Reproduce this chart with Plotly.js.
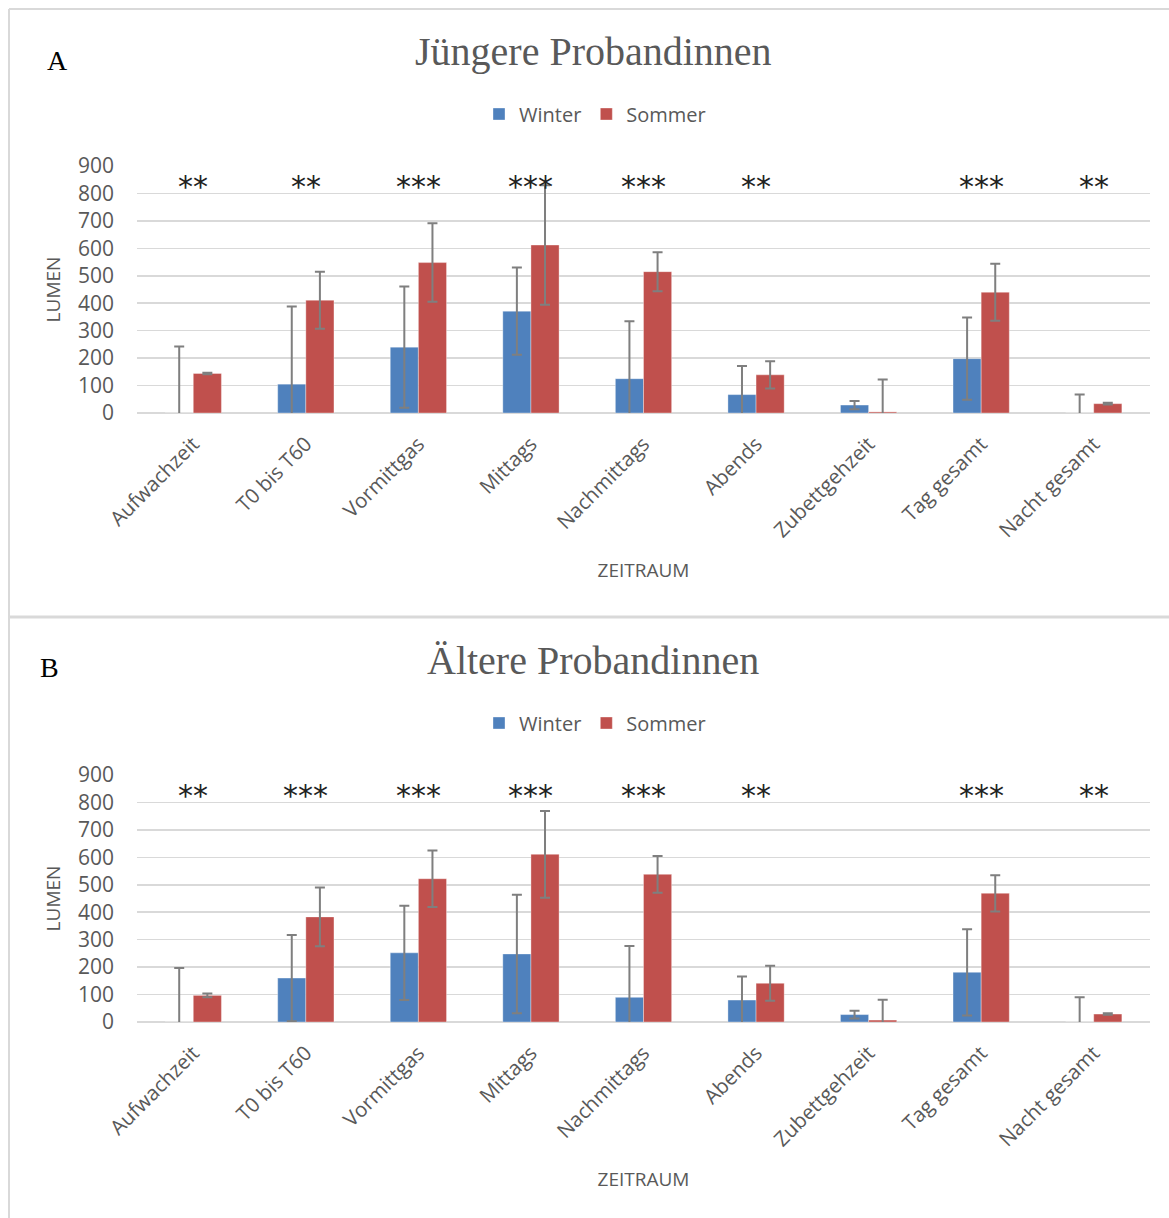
<!DOCTYPE html>
<html>
<head>
<meta charset="utf-8">
<script src="https://cdn.plot.ly/plotly-3.0.1.min.js"></script>
<style>html,body{margin:0;padding:0;background:#fff;}#chart{width:1169px;height:1218px;}</style>
</head>
<body>
<div id="chart"></div>
<script>
const categories = ["Aufwachzeit", "T0 bis T60", "Vormittgas", "Mittags", "Nachmittags", "Abends", "Zubettgehzeit", "Tag gesamt", "Nacht gesamt"];

// Panel A: Jüngere Probandinnen
const youngWinter    = [0, 105, 240, 371, 125, 67, 29, 198, 0];
const youngWinterErr = [242, 283, 221, 159, 209, 104, 15, 150, 67];
const youngSommer    = [144, 411, 548, 612, 515, 139, 4, 440, 34];
const youngSommerErr = [3, 104, 143, 218, 71, 50, 118, 104, 3];
const youngStars     = ["**", "**", "***", "***", "***", "**", "", "***", "**"];

// Panel B: Ältere Probandinnen
const oldWinter    = [0, 160, 252, 248, 90, 80, 27, 181, 0];
const oldWinterErr = [197, 157, 172, 216, 187, 86, 14, 157, 90];
const oldSommer    = [97, 383, 522, 611, 538, 141, 7, 469, 29];
const oldSommerErr = [7, 107, 103, 158, 67, 64, 74, 66, 3];
const oldStars     = ["**", "***", "***", "***", "***", "**", "", "***", "**"];

const seriesNames = ["Winter", "Sommer"];
const titles = ["Jüngere Probandinnen", "Ältere Probandinnen"];
const panelLabels = ["A", "B"];
const yTitle = "LUMEN";
const xTitle = "ZEITRAUM";

const BLUE = "#4F81BD", RED = "#C0504D", ERR = "#7F7F7F", GREY = "#595959";
const W = 1169, H = 1218;
const py = p => 1 - p / H;

function bar(name, y, err, color, xa, ya, leg, show) {
  return {
    type: "bar", name: name, x: categories, y: y,
    xaxis: xa, yaxis: ya, legend: leg, showlegend: show,
    marker: {color: color, line: {color: "rgba(255,255,255,0.35)", width: 1}},
    error_y: {type: "data", array: err, symmetric: true, visible: true, color: ERR, thickness: 2, width: 5},
    hoverinfo: "x+y"
  };
}

const traces = [
  bar(seriesNames[0], youngWinter, youngWinterErr, BLUE, "x", "y", "legend", true),
  bar(seriesNames[1], youngSommer, youngSommerErr, RED, "x", "y", "legend", true),
  bar(seriesNames[0], oldWinter, oldWinterErr, BLUE, "x2", "y2", "legend2", true),
  bar(seriesNames[1], oldSommer, oldSommerErr, RED, "x2", "y2", "legend2", true)
];

const tickFont = {family: "Open Sans, sans-serif", size: 21, color: GREY};
function xaxis(anchor) {
  return {
    domain: [137 / W, 1150 / W], anchor: anchor, type: "category",
    tickangle: -45, tickfont: {family: "Open Sans, sans-serif", size: 20.5, color: GREY},
    showgrid: false, zeroline: false, ticklabelstandoff: 14,
    showline: false, ticks: "", fixedrange: true,
    title: {text: xTitle, font: {family: "Open Sans, sans-serif", size: 19, color: GREY}, standoff: 21}
  };
}
function yaxis(anchor, top, bottom) {
  return {
    domain: [py(bottom), py(top)], anchor: anchor, range: [0, 900],
    tickvals: [0, 100, 200, 300, 400, 500, 600, 700, 800, 900],
    tickfont: tickFont, showgrid: true, gridcolor: "#D9D9D9", gridwidth: 1.5,
    zeroline: true, zerolinecolor: "#D9D9D9", zerolinewidth: 1.5, showline: false,
    ticks: "", ticklabelstandoff: 22, fixedrange: true,
    title: {text: yTitle, font: {family: "Open Sans, sans-serif", size: 19, color: GREY}, standoff: 12}
  };
}

const annotations = [];
function addPanel(i, titleY, labelX, labelY, stars, xref, yref) {
  annotations.push({xref: "paper", yref: "paper", x: 593 / W, y: py(titleY), xanchor: "center", yanchor: "middle",
    text: titles[i], showarrow: false, font: {family: "Liberation Serif, serif", size: 40, color: GREY}});
  annotations.push({xref: "paper", yref: "paper", x: labelX / W, y: py(labelY), xanchor: "center", yanchor: "middle",
    text: panelLabels[i], showarrow: false, font: {family: "Liberation Serif, serif", size: 28, color: "#000"}});
  stars.forEach((s, k) => {
    if (!s) return;
    annotations.push({xref: xref, yref: yref, x: categories[k], y: 826, xanchor: "center", yanchor: "middle",
      text: s, showarrow: false, font: {family: "DejaVu Sans, sans-serif", size: 30, color: "#222"}});
  });
}
addPanel(0, 52, 57, 61, youngStars, "x", "y");
addPanel(1, 661, 49, 667, oldStars, "x2", "y2");

const legendBase = {orientation: "h", xanchor: "center", yanchor: "middle", x: 595 / W,
  font: {family: "Open Sans, sans-serif", size: 20, color: GREY}, itemwidth: 30, tracegroupgap: 0, bgcolor: "rgba(0,0,0,0)"};

const shapes = [
  {type: "line", xref: "paper", yref: "paper", x0: 9 / W, x1: 9 / W, y0: 0, y1: py(9), line: {color: "#D9D9D9", width: 2}},
  {type: "line", xref: "paper", yref: "paper", x0: 9 / W, x1: 1, y0: py(9), y1: py(9), line: {color: "#D9D9D9", width: 2}},
  {type: "line", xref: "paper", yref: "paper", x0: 9 / W, x1: 1, y0: py(617), y1: py(617), line: {color: "#D9D9D9", width: 3}}
];

const layout = {
  width: W, height: H, margin: {l: 0, r: 0, t: 0, b: 0},
  paper_bgcolor: "#fff", plot_bgcolor: "#fff",
  barmode: "group", bargap: 0.5, bargroupgap: 0,
  xaxis: xaxis("y"), yaxis: yaxis("x", 166, 413),
  xaxis2: xaxis("y2"), yaxis2: yaxis("x2", 775, 1022),
  legend: Object.assign({}, legendBase, {y: py(114)}),
  legend2: Object.assign({}, legendBase, {y: py(723)}),
  annotations: annotations, shapes: shapes
};

Plotly.newPlot("chart", traces, layout, {displayModeBar: false, staticPlot: true});
</script>
</body>
</html>
